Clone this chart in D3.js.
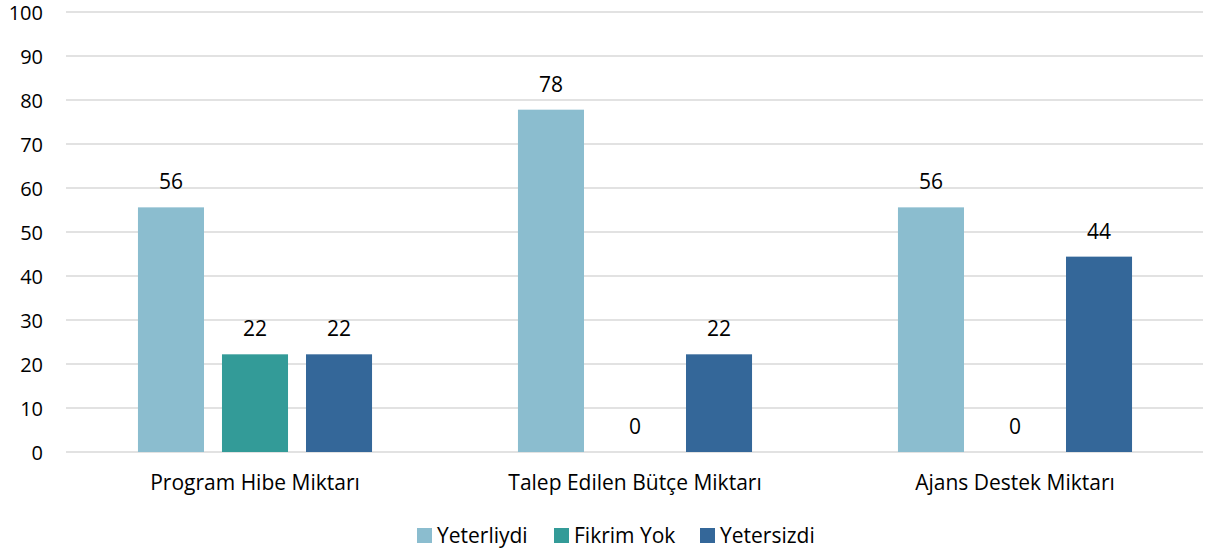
<!DOCTYPE html>
<html>
<head>
<meta charset="utf-8">
<script src="https://d3js.org/d3.v7.min.js"></script>
<style>
  body { margin: 0; background: #fff; }
  svg text { font-family: "Open Sans", sans-serif; fill: #000; }
</style>
</head>
<body>
<script>
var categories = ["Program Hibe Miktarı", "Talep Edilen Bütçe Miktarı", "Ajans Destek Miktarı"];
var seriesNames = ["Yeterliydi", "Fikrim Yok", "Yetersizdi"];
var yeterliydi = [55.6, 77.8, 55.6];
var fikrimYok = [22.2, 0, 0];
var yetersizdi = [22.2, 22.2, 44.4];
var yTicks = [0, 10, 20, 30, 40, 50, 60, 70, 80, 90, 100];
var colors = ["#8bbdcf", "#339b98", "#346799"];

var seriesValues = [yeterliydi, fikrimYok, yetersizdi];
var fontFam = "'Open Sans', sans-serif";

var width = 1206, height = 553;
var svg = d3.select("body").append("svg")
  .attr("width", width).attr("height", height);

var x0 = d3.scaleBand().domain(categories).range([65, 1205])
  .paddingInner(0.384).paddingOuter(0.192);
var x1 = d3.scaleBand().domain(seriesNames).range([0, x0.bandwidth()])
  .paddingInner(0.214).paddingOuter(0);
var y = d3.scaleLinear().domain([0, 100]).range([452, 12]);

// gridlines
svg.selectAll("line.grid").data(yTicks).enter().append("line")
  .attr("x1", 66).attr("x2", 1203)
  .attr("y1", function(d) { return y(d); })
  .attr("y2", function(d) { return y(d); })
  .attr("stroke", "#d9d9d9").attr("stroke-width", 1.5);

// y axis labels
var yAxis = d3.axisLeft(y).tickValues(yTicks).tickSize(0).tickPadding(0);
var gy = svg.append("g").attr("transform", "translate(43,0)").call(yAxis);
gy.select(".domain").remove();
gy.selectAll("text").style("font-size", "20px").attr("dy", "0.35em")
  .style("font-family", fontFam).attr("fill", "#000");

// bars
var rows = [];
categories.forEach(function(c, i) {
  seriesNames.forEach(function(s, j) {
    rows.push({ cat: c, series: s, value: seriesValues[j][i], color: colors[j] });
  });
});

svg.selectAll("rect.bar").data(rows).enter().append("rect")
  .attr("x", function(d) { return x0(d.cat) + x1(d.series); })
  .attr("y", function(d) { return y(d.value); })
  .attr("width", x1.bandwidth())
  .attr("height", function(d) { return y(0) - y(d.value); })
  .attr("fill", function(d) { return d.color; });

// value labels
svg.selectAll("text.val").data(rows).enter().append("text")
  .attr("x", function(d) { return x0(d.cat) + x1(d.series) + x1.bandwidth() / 2; })
  .attr("y", function(d) { return y(d.value) - 18; })
  .attr("text-anchor", "middle")
  .style("font-size", "21px")
  .text(function(d) { return Math.round(d.value); });

// category labels
var xAxis = d3.axisBottom(x0).tickSize(0).tickPadding(0);
var gx = svg.append("g").attr("transform", "translate(0,0)").call(xAxis);
gx.select(".domain").remove();
gx.selectAll("text").style("font-size", "21px")
  .style("font-family", fontFam).attr("fill", "#000")
  .attr("y", 490).attr("dy", null);

// legend
var legendX = [417, 554, 700];
var lg = svg.selectAll("g.legend").data(seriesNames).enter().append("g")
  .attr("transform", function(d, i) { return "translate(" + legendX[i] + ",528)"; });
lg.append("rect").attr("width", 15).attr("height", 15)
  .attr("fill", function(d, i) { return colors[i]; });
lg.append("text").attr("x", 20).attr("y", 15)
  .style("font-size", "21px").text(function(d) { return d; });
</script>
</body>
</html>
